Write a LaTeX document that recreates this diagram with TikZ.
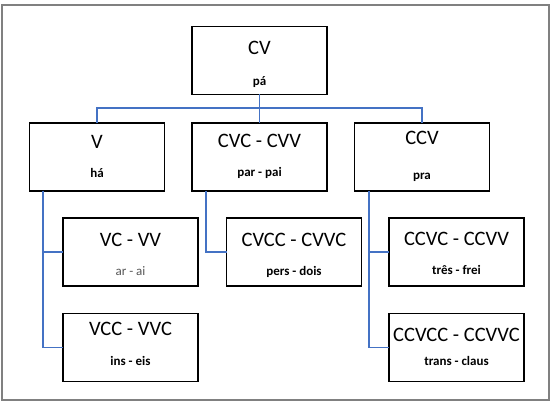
\documentclass[tikz,border=0pt]{standalone}
\usepackage{fontspec}
\setmainfont{Carlito}
\definecolor{linkblue}{RGB}{68,114,196}
\definecolor{framegray}{RGB}{128,128,128}
\definecolor{subgray}{RGB}{85,85,85}
\begin{document}
\begin{tikzpicture}[x=1pt,y=-1pt,
  box/.style={draw=black,line width=1.4pt,minimum width=135pt,minimum height=68pt,inner sep=0pt,outer sep=0pt},
  maintext/.style={anchor=base,font=\fontsize{20.5}{24}\selectfont,inner sep=0pt},
  subtext/.style={anchor=base,font=\fontsize{13}{15}\selectfont\bfseries,inner sep=0pt},
  link/.style={draw=linkblue,line width=1.9pt}]
\useasboundingbox (0,0) rectangle (554,406);
\draw[framegray,line width=1.3pt] (2,5) rectangle (549,400);
% boxes
\node[box] (cv)    at (259.5,60.5) {};
\node[box] (v)     at (97,157) {};
\node[box] (cvc)   at (259.5,157) {};
\node[box] (ccv)   at (422,157) {};
\node[box] (vc)    at (130.5,252) {};
\node[box] (cvcc)  at (294,252) {};
\node[box] (ccvc)  at (456.5,252) {};
\node[box] (vcc)   at (130.5,347.5) {};
\node[box] (ccvcc) at (456.5,347.5) {};
% texts
\node[maintext] (cvA) at ([yshift=-28pt]cv.north) {CV};
\node[subtext]  (cvB) at ([yshift=-59pt]cv.north) {pá};
\node[maintext] (vA) at ([yshift=-26pt]v.north) {V};
\node[subtext]  (vB) at ([yshift=-55pt]v.north) {há};
\node[maintext] (cvcA) at ([yshift=-25pt]cvc.north) {CVC - CVV};
\node[subtext]  (cvcB) at ([yshift=-54pt]cvc.north) {par - pai};
\node[maintext] (ccvA) at ([yshift=-22pt]ccv.north) {CCV};
\node[subtext]  (ccvB) at ([yshift=-57pt]ccv.north) {pra};
\node[maintext] (vcA) at ([yshift=-28pt]vc.north) {VC - VV};
\node[anchor=base,font=\fontsize{13}{15}\selectfont,inner sep=0pt,text=subgray] (vcB) at ([yshift=-57pt]vc.north) {ar - ai};
\node[maintext] (cvccA) at ([yshift=-28pt]cvcc.north) {CVCC - CVVC};
\node[subtext]  (cvccB) at ([yshift=-57pt]cvcc.north) {pers - dois};
\node[maintext] (ccvcA) at ([yshift=-27pt]ccvc.north) {CCVC - CCVV};
\node[subtext]  (ccvcB) at ([yshift=-56pt]ccvc.north) {três - frei};
\node[maintext] (vccA) at ([yshift=-22pt]vcc.north) {VCC - VVC};
\node[subtext]  (vccB) at ([yshift=-52pt]vcc.north) {ins - eis};
\node[maintext] (ccvccA) at ([yshift=-28pt]ccvcc.north) {CCVCC - CCVVC};
\node[subtext]  (ccvccB) at ([yshift=-52pt]ccvcc.north) {trans - claus};
% connectors
\coordinate (bus) at (0,108);
\coordinate (tl) at ([xshift=13.5pt]v.south west);
\coordinate (tm) at ([xshift=14pt]cvc.south west);
\coordinate (tr) at ([xshift=14.5pt]ccv.south west);
\path[link] (cv.south) -- (cvc.north);
\path[link] (v.north) -- (v.north |- bus) -- (ccv.north |- bus) -- (ccv.north);
\path[link] (tl) |- (vc.west);
\path[link] (tl) |- (vcc.west);
\path[link] (tm) |- (cvcc.west);
\path[link] (tr) |- (ccvc.west);
\path[link] (tr) |- (ccvcc.west);
\end{tikzpicture}
\end{document}
